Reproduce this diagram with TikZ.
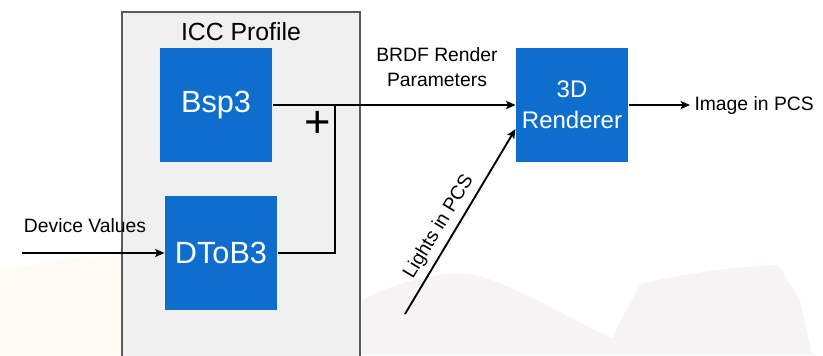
\documentclass[tikz,border=0pt]{standalone}
\usepackage{fontspec}
\setmainfont{Liberation Sans}
\usetikzlibrary{arrows.meta,calc}

\definecolor{keyblue}{RGB}{14,110,206}
\definecolor{panelgray}{RGB}{240,240,240}
\definecolor{panelline}{RGB}{90,90,90}
\definecolor{washcream}{RGB}{255,251,243}
\definecolor{washpink}{RGB}{247,244,246}

\tikzset{every picture/.style={line width=0.75pt}}

\begin{document}
\begin{tikzpicture}[x=0.75pt,y=0.75pt,yscale=-1,xscale=1,
  blockbox/.style={fill=keyblue, text=white, inner sep=0pt, minimum width=84pt, minimum height=85pt, font=\fontsize{23}{27}\selectfont},
  lbl/.style={inner sep=0.75pt, font=\fontsize{14.5}{18.7}\selectfont},
  flow/.style={line width=1.4pt, -{Stealth[length=7pt,width=6pt,inset=1.5pt]}},
  wire/.style={line width=1.4pt}]
%set diagram size
\useasboundingbox (0,0) rectangle (823,355);

%Shape: Wash [id:bg] 
\fill [washcream] (0,272) .. controls (40,262) and (90,256) .. (122,255) -- (122,355) -- (0,355) -- cycle ;
\fill [washpink] (362,300) .. controls (400,280) and (450,268) .. (480,276) .. controls (530,292) and (580,325) .. (612,338) -- (620,355) -- (362,355) -- cycle ;
\fill [washpink] (612,338) -- (640,284) .. controls (680,274) and (740,266) .. (778,265) -- (800,300) -- (812,355) -- (620,355) -- cycle ;

%Shape: Rectangle [id:iccpanel] 
\draw [draw=panelline, fill=panelgray, line width=0.9pt] (122,358) -- (122,12) -- (360,12) -- (360,358) ;

% Text Node
\node [inner sep=0.75pt, font=\fontsize{18.6}{22}\selectfont] (icctitle) at (241,32) {ICC Profile};

%Shape: Blocks
\node [blockbox] (bsp) at (216,105) {Bsp3};
\node [blockbox] (dtob) at (221,253) {DToB3};
\node [blockbox, font=\fontsize{18}{23}\selectfont, align=center] (rend) at (572,105) {3D\\Renderer};

%Straight Lines [id:merge] 
\coordinate (jn) at (335,105);
\draw [flow] (bsp.east) -- (rend.west) ;
\draw [wire] (dtob.east) -| (jn) ;
% Text Node
\node [inner sep=0pt, font=\fontsize{34}{36}\selectfont] (plus) at (318,124) {+};

%Straight Lines [id:devin] 
\coordinate (devin) at (22,253);
\draw [flow] (devin) -- (dtob.west) ;
% Text Node
\node [lbl] (devlbl) at (85,226) {Device Values};

% Text Node
\node [lbl, align=center] (brdf) at (437,67) {BRDF Render\\Parameters};

%Straight Lines [id:lights] 
\coordinate (lightin) at (405,314);
\draw [flow] (lightin) -- ($(rend.west)+(0,24)$) ;
% Text Node
\node [lbl, rotate=58.8] (lightlbl) at (439,227) {Lights in PCS};

%Straight Lines [id:imgout] 
\node [lbl, anchor=west, inner sep=3pt] (imgout) at (690,105) {Image in PCS};
\draw [flow] (rend.east) -- (imgout.west) ;

\end{tikzpicture}
\end{document}
